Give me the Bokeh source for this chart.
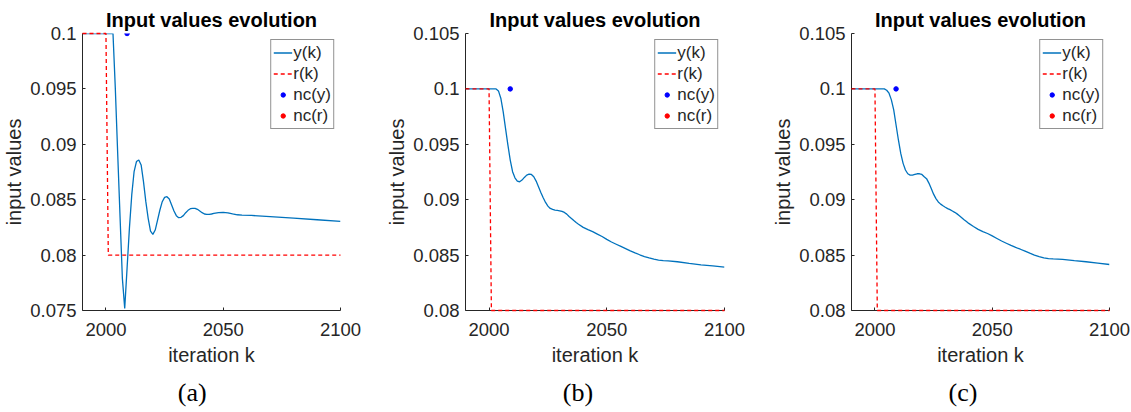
from bokeh.plotting import figure
from bokeh.models import Range1d, FixedTicker, Legend, LegendItem, Div
from bokeh.layouts import row, column
from bokeh.embed import file_html
from bokeh.resources import INLINE

# ---------------- data ----------------
k_r = [1990, 2000, 2001, 2100]
r_vals = [0.1, 0.1, 0.08, 0.08]
nc_y_k = [2009]
nc_y_v = [0.1]
nc_r_k = [2009]
nc_r_v = [float("nan")]   # not visible in the reference

k_a = [1990, 2003, 2004, 2005, 2006, 2007, 2008, 2009, 2010, 2011, 2012, 2013, 2014,
       2015, 2016, 2017, 2018, 2019, 2020, 2021, 2022, 2023, 2024, 2025, 2026, 2027,
       2028, 2029, 2030, 2031, 2032, 2033, 2034, 2035, 2036, 2037, 2038, 2039, 2040,
       2041, 2042, 2043, 2044, 2045, 2046, 2048, 2050, 2052, 2054, 2056, 2058, 2062,
       2070, 2080, 2090, 2100]
y_a = [0.1, 0.1, 0.0950, 0.0892, 0.0835, 0.0779, 0.07518, 0.0788, 0.08241, 0.08543,
       0.08754, 0.08844, 0.08859, 0.08814, 0.08663, 0.08482, 0.08332, 0.08217, 0.08187,
       0.08226, 0.08316, 0.08407, 0.08482, 0.08521, 0.08527, 0.08506, 0.08452, 0.08398,
       0.08356, 0.08338, 0.08341, 0.08356, 0.08383, 0.08404, 0.08419, 0.08422, 0.08422,
       0.08413, 0.08398, 0.08383, 0.08371, 0.08368, 0.08368, 0.08371, 0.08376, 0.08383,
       0.08386, 0.08381, 0.08372, 0.08364, 0.08360, 0.08358, 0.08347, 0.08333, 0.08319,
       0.08304]

k_b = [1990, 2003, 2004, 2005, 2006, 2007, 2008, 2009, 2010, 2011, 2012, 2013, 2014,
       2015, 2016, 2017, 2018, 2019, 2020, 2021, 2022, 2023, 2024, 2025, 2026, 2027,
       2028, 2029, 2030, 2031, 2032, 2033, 2034, 2035, 2036, 2037, 2038, 2040, 2042,
       2044, 2046, 2048, 2050, 2052, 2054, 2056, 2058, 2060, 2062, 2064, 2066, 2068,
       2070, 2072, 2074, 2076, 2080, 2085, 2090, 2095, 2100]
y_b = [0.1, 0.1, 0.09982, 0.09916, 0.09795, 0.09644, 0.09494, 0.09358, 0.09253, 0.09198,
       0.09168, 0.09162, 0.09177, 0.09201, 0.09222, 0.09231, 0.09228, 0.09207, 0.09168,
       0.09117, 0.09066, 0.09017, 0.08975, 0.08942, 0.08921, 0.08912, 0.08906, 0.08903,
       0.08900, 0.08894, 0.08885, 0.08870, 0.08849, 0.08831, 0.08812, 0.08794, 0.08779,
       0.08750, 0.08730, 0.08712, 0.08690, 0.08668, 0.08642, 0.08618, 0.08598, 0.08578,
       0.08558, 0.08538, 0.08520, 0.08503, 0.08487, 0.08474, 0.08463, 0.08455, 0.08450,
       0.08447, 0.08440, 0.08425, 0.08412, 0.08402, 0.08392]

k_c = [1990, 2004, 2005, 2006, 2007, 2008, 2009, 2010, 2011, 2012, 2013, 2014, 2015,
       2016, 2017, 2018, 2019, 2020, 2021, 2022, 2023, 2024, 2025, 2026, 2027, 2028,
       2029, 2030, 2031, 2032, 2033, 2034, 2035, 2036, 2037, 2038, 2039, 2040, 2042,
       2044, 2046, 2048, 2050, 2052, 2054, 2056, 2058, 2060, 2062, 2064, 2066, 2068,
       2070, 2072, 2074, 2076, 2080, 2085, 2090, 2095, 2100]
y_c = [0.1, 0.1, 0.09988, 0.09961, 0.09901, 0.09810, 0.09674, 0.09539, 0.09418, 0.09328,
       0.09268, 0.09234, 0.09222, 0.09222, 0.09228, 0.09234, 0.09234, 0.09228, 0.09207,
       0.09190, 0.09150, 0.09100, 0.09050, 0.09010, 0.08980, 0.08960, 0.08945, 0.08932,
       0.08920, 0.08910, 0.08898, 0.08886, 0.08872, 0.08856, 0.08838, 0.08820, 0.08803,
       0.08786, 0.08758, 0.08732, 0.08712, 0.08695, 0.08673, 0.08650, 0.08627, 0.08607,
       0.08587, 0.08569, 0.08553, 0.08535, 0.08517, 0.08500, 0.08486, 0.08475, 0.08469,
       0.08466, 0.08462, 0.08450, 0.08440, 0.08428, 0.08415]

x_ticks = [2000, 2050, 2100]
x_tick_labels = ["2000", "2050", "2100"]
y_ticks_a = [0.075, 0.08, 0.085, 0.09, 0.095, 0.1]
y_tick_labels_a = ["0.075", "0.08", "0.085", "0.09", "0.095", "0.1"]
y_ticks_bc = [0.08, 0.085, 0.09, 0.095, 0.1, 0.105]
y_tick_labels_bc = ["0.08", "0.085", "0.09", "0.095", "0.1", "0.105"]

title_text = "Input values evolution"
x_label = "iteration k"
y_label = "input values"
legend_labels = ["y(k)", "r(k)", "nc(y)", "nc(r)"]
captions = ["(a)", "(b)", "(c)"]

# ---------------- styling ----------------
SANS = "Liberation Sans"
SERIF = "Liberation Serif"
AX = "#262626"
BLUE = "#0072BD"
W = 377


def make_panel(k, y, yticks, ylabels, left, right):
    H = 380
    top, bottom = 33, 70
    p = figure(width=W, height=H, output_backend="svg", toolbar_location=None,
               x_range=Range1d(1990, 2100),
               y_range=Range1d(yticks[0], yticks[-1]),
               min_border_left=left, min_border_right=right,
               min_border_top=top, min_border_bottom=bottom,
               title=title_text)
    p.outline_line_color = None
    p.grid.visible = False
    p.background_fill_color = "white"
    p.border_fill_color = "white"

    p.title.align = "center"
    p.title.text_font = SANS
    p.title.text_font_style = "bold"
    p.title.text_font_size = "20px"
    p.title.text_color = "black"
    p.title.standoff = 5

    for ax in (p.xaxis[0], p.yaxis[0]):
        ax.axis_line_color = AX
        ax.axis_line_width = 1
        ax.major_tick_line_color = AX
        ax.major_tick_in = 3
        ax.major_tick_out = 0
        ax.minor_tick_line_color = None
        ax.major_label_text_font = SANS
        ax.major_label_text_font_size = "18.5px"
        ax.major_label_text_color = AX
        ax.axis_label_text_font = SANS
        ax.axis_label_text_font_size = "20px"
        ax.axis_label_text_font_style = "normal"
        ax.axis_label_text_color = AX
        ax.major_label_standoff = 6

    p.xaxis[0].ticker = FixedTicker(ticks=x_ticks)
    p.xaxis[0].major_label_overrides = {t: s for t, s in zip(x_ticks, x_tick_labels)}
    p.xaxis[0].axis_label = x_label
    p.xaxis[0].axis_label_standoff = 5
    p.xaxis[0].major_label_standoff = 12

    p.yaxis[0].ticker = FixedTicker(ticks=yticks)
    p.yaxis[0].major_label_overrides = {t: s for t, s in zip(yticks, ylabels)}
    p.yaxis[0].axis_label = y_label
    p.yaxis[0].axis_label_standoff = 2

    ry = p.line(k, y, line_color=BLUE, line_width=1.3)
    rr = p.line(k_r, r_vals, line_color="#FF0000", line_width=1.3, line_dash="4 3",
                level="overlay")
    rny = p.scatter(nc_y_k, nc_y_v, size=4.5, fill_color="#0000FF", line_color="#0000FF")
    rnr = p.scatter(nc_r_k, nc_r_v, size=4.5, fill_color="#FF0000", line_color="#FF0000")

    legend = Legend(items=[LegendItem(label=legend_labels[0], renderers=[ry]),
                           LegendItem(label=legend_labels[1], renderers=[rr]),
                           LegendItem(label=legend_labels[2], renderers=[rny]),
                           LegendItem(label=legend_labels[3], renderers=[rnr])],
                    location="top_right", margin=6, padding=2, spacing=0,
                    glyph_width=19, glyph_height=11, label_height=21,
                    label_standoff=1,
                    label_text_font=SANS, label_text_font_size="17px",
                    label_text_color=AX, label_text_baseline="middle",
                    border_line_color=AX, border_line_width=1,
                    background_fill_color="white", background_fill_alpha=1)
    p.add_layout(legend)
    return p


def make_caption(text, shift):
    html = ('<span style="position:relative;left:%.1fpx;font-family:\'%s\';'
            'font-size:26px;line-height:25px;color:black">%s</span>' % (shift, SERIF, text))
    return Div(text=html, width=W, height=32,
               styles={"text-align": "center", "margin": "0", "padding": "0",
                       "line-height": "25px", "background": "white"})


pa = make_panel(k_a, y_a, y_ticks_a, y_tick_labels_a, 81, 37)
pb = make_panel(k_b, y_b, y_ticks_bc, y_tick_labels_bc, 88, 30)
pc = make_panel(k_c, y_c, y_ticks_bc, y_tick_labels_bc, 97, 22)

ca = make_caption(captions[0], 3.7)
cb = make_caption(captions[1], 12.5)
cc = make_caption(captions[2], 20.5)

layout = row(column(pa, ca, spacing=0), column(pb, cb, spacing=0),
             column(pc, cc, spacing=0), spacing=0)
open("out.html", "w").write(file_html(layout, INLINE))
